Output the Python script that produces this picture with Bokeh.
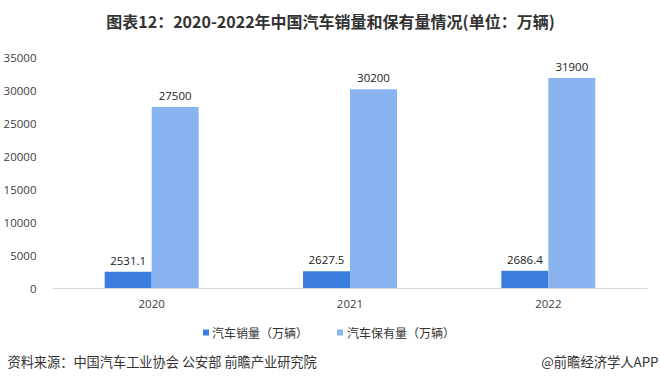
from bokeh.plotting import figure
from bokeh.layouts import column, row
from bokeh.models import (ColumnDataSource, LabelSet, Range1d, FactorRange,
                          SingleIntervalTicker)
from bokeh.core.properties import value
from bokeh.transform import dodge
from bokeh.embed import file_html
from bokeh.resources import INLINE

years = ["2020", "2021", "2022"]
sales = [2531.1, 2627.5, 2686.4]
stock = [27500, 30200, 31900]
sales_labels = ["2531.1", "2627.5", "2686.4"]
stock_labels = ["27500", "30200", "31900"]
series_names = ["汽车销量（万辆）", "汽车保有量（万辆）"]

title_text = "图表12：2020-2022年中国汽车销量和保有量情况(单位：万辆)"
source_text = "资料来源：中国汽车工业协会 公安部 前瞻产业研究院"
brand_text = "@前瞻经济学人APP"

DARK = "#3c7ee0"
LIGHT = "#8ab4f0"
CJK = "Noto Sans CJK SC"
NUM = "Open Sans"
W = 660


def blank(h):
    f = figure(width=W, height=h, x_range=Range1d(0, W), y_range=Range1d(0, h),
               x_axis_type=None, y_axis_type=None,
               output_backend="svg", toolbar_location=None, min_border=0)
    f.grid.visible = False
    f.outline_line_color = None
    return f


# --- title strip ---
TH = 50
top = blank(TH)
top.text(x=[330], y=[TH - 20], text=[title_text], text_align="center",
         text_baseline="middle", text_font=value(CJK), text_font_style="bold",
         text_font_size="16px", text_color="#333333")

# --- main chart ---
src = ColumnDataSource(dict(years=years, sales=sales, stock=stock,
                            sl=sales_labels, kl=stock_labels))

p = figure(width=W, height=270, x_range=FactorRange(*years),
           y_range=Range1d(0, 35000), output_backend="svg",
           toolbar_location=None, min_border_left=52, min_border_right=13,
           min_border_top=7, min_border_bottom=32)
p.outline_line_color = None
p.grid.grid_line_color = None

bw = 0.237
off = 0.1185
p.vbar(x=dodge("years", -off, range=p.x_range), top="sales", width=bw,
       source=src, fill_color=DARK, line_color=None)
p.vbar(x=dodge("years", off, range=p.x_range), top="stock", width=bw,
       source=src, fill_color=LIGHT, line_color=None)

for xo, col, txt in [(-off, "sales", "sl"), (off, "stock", "kl")]:
    p.add_layout(LabelSet(x=dodge("years", xo, range=p.x_range), y=col, text=txt,
                          source=src, text_align="center", text_baseline="bottom",
                          y_offset=7, text_font_size="11.5px", text_color="#222222",
                          text_font=value(NUM)))

p.yaxis.ticker = SingleIntervalTicker(interval=5000)
p.yaxis.axis_line_color = None
p.yaxis.major_tick_line_color = None
p.yaxis.major_tick_out = 0
p.yaxis.minor_tick_line_color = None
p.yaxis.major_label_standoff = 12
p.yaxis.major_label_text_font = NUM
p.yaxis.major_label_text_font_size = "11.5px"
p.yaxis.major_label_text_color = "#404040"

p.xaxis.axis_line_color = "#d9d9d9"
p.xaxis.major_tick_line_color = None
p.xaxis.major_tick_out = 0
p.xaxis.minor_tick_line_color = None
p.xaxis.major_label_standoff = 11
p.xaxis.major_label_text_font = NUM
p.xaxis.major_label_text_font_size = "11.5px"
p.xaxis.major_label_text_color = "#404040"

# --- legend + source strip ---
BH = 63
bot = blank(BH)
bot.scatter(x=[205.5, 339.5], y=[BH - 12, BH - 12], marker="square", size=6,
            fill_color=[DARK, LIGHT], line_color=None)
bot.text(x=[211.5, 346.5], y=[BH - 12, BH - 12], text=series_names,
         text_align="left", text_baseline="middle", text_font=value(CJK),
         text_font_size="12px", text_color="#333333")
bot.text(x=[7], y=[BH - 41], text=[source_text], text_align="left",
         text_baseline="middle", text_font=value(CJK), text_font_size="13.2px",
         text_color="#333333")
bot.text(x=[658], y=[BH - 41], text=[brand_text], text_align="right",
         text_baseline="middle", text_font=value(CJK), text_font_size="13.3px",
         text_color="#333333")

layout = column(top, row(p), bot, spacing=0)
open("out.html", "w").write(file_html(layout, INLINE))
